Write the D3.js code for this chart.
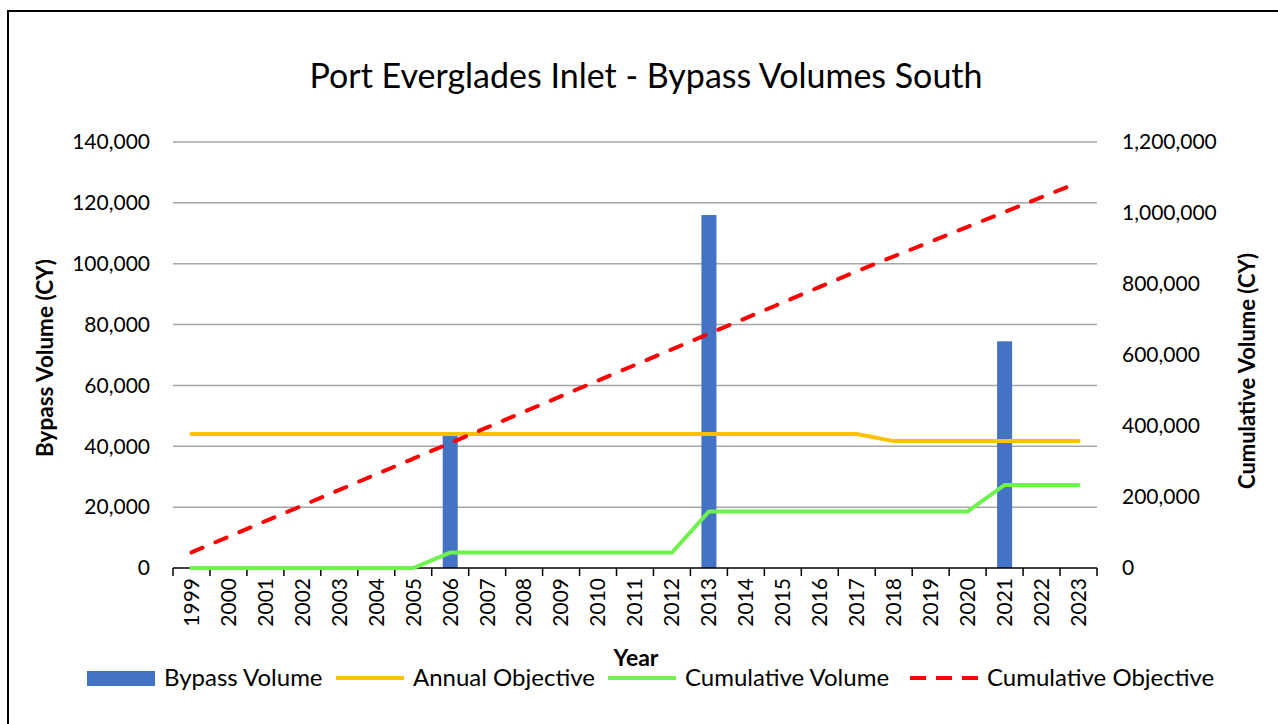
<!DOCTYPE html>
<html>
<head>
<meta charset="utf-8">
<script src="https://cdn.jsdelivr.net/npm/d3@7"></script>
<style>
  body { margin: 0; background: #fff; }
  text { font-family: Lato, "Open Sans", sans-serif; fill: #000; }
</style>
</head>
<body>
<div id="chart"></div>
<script>
// values
const years = ["1999","2000","2001","2002","2003","2004","2005","2006","2007","2008","2009","2010",
               "2011","2012","2013","2014","2015","2016","2017","2018","2019","2020","2021","2022","2023"];
const bypassVolume = [0,0,0,0,0,0,0,43500,0,0,0,0,0,0,116000,0,0,0,0,0,0,0,74500,0,0];
const annualObjective = [44000,44000,44000,44000,44000,44000,44000,44000,44000,44000,44000,44000,44000,
                         44000,44000,44000,44000,44000,44000,41700,41700,41700,41700,41700,41700];
const cumulativeVolume = [0,0,0,0,0,0,0,43500,43500,43500,43500,43500,43500,43500,159500,159500,159500,
                          159500,159500,159500,159500,159500,234000,234000,234000];
const cumulativeObjective = [44000,88000,132000,176000,220000,264000,308000,352000,396000,440000,484000,
                             528000,572000,616000,660000,704000,748000,792000,836000,877700,919400,
                             961100,1002800,1044500,1086200];
const leftTicks = [0,20000,40000,60000,80000,100000,120000,140000];
const rightTicks = [0,200000,400000,600000,800000,1000000,1200000];

const width = 1278,
      height = 724,
      margin = ({top: 142, right: 181, bottom: 156, left: 173});

const svg = d3.select("#chart")
    .append("svg")
    .attr("width", width)
    .attr("height", height);

// outer frame (only the top and left edges show in the picture)
svg.append("rect")
    .attr("x", 8).attr("y", 11)
    .attr("width", width + 20).attr("height", height + 20)
    .attr("fill", "none").attr("stroke", "#000").attr("stroke-width", 2);

const x = d3.scaleBand()
    .domain(years)
    .range([margin.left, width - margin.right]);

const y = d3.scaleLinear()
    .domain([0, 140000])
    .range([height - margin.bottom, margin.top]);

const y2 = d3.scaleLinear()
    .domain([0, 1200000])
    .range([height - margin.bottom, margin.top]);

const fmt = d3.format(",");

// gridlines
svg.append("g")
    .selectAll("line")
    .data(leftTicks.slice(1))
    .join("line")
    .attr("x1", margin.left).attr("x2", width - margin.right)
    .attr("y1", d => y(d)).attr("y2", d => y(d))
    .attr("stroke", "#a6a6a6").attr("stroke-width", 1.5);

// left axis labels
svg.append("g")
    .attr("transform", `translate(${margin.left - 23},0)`)
    .call(d3.axisLeft(y).tickValues(leftTicks).tickFormat(fmt).tickSize(0).tickPadding(0))
    .call(g => g.select(".domain").remove())
    .call(g => g.selectAll("text").style("font-size", "21px").attr("font-family", null));

// right axis labels
svg.append("g")
    .attr("transform", `translate(${width - margin.right + 25},0)`)
    .call(d3.axisRight(y2).tickValues(rightTicks).tickFormat(fmt).tickSize(0).tickPadding(0))
    .call(g => g.select(".domain").remove())
    .call(g => g.selectAll("text").style("font-size", "21px").attr("font-family", null));

// bars
svg.append("g")
    .selectAll("rect")
    .data(years.map((yr, i) => ({yr, v: bypassVolume[i]})).filter(d => d.v > 0))
    .join("rect")
    .attr("fill", "#4472c4")
    .attr("x", d => x(d.yr) + x.bandwidth() / 2 - 7.5)
    .attr("width", 15)
    .attr("y", d => y(d.v))
    .attr("height", d => y(0) - y(d.v));

// x axis
const xAxis = svg.append("g")
    .attr("transform", `translate(0,${height - margin.bottom})`);
xAxis.append("line")
    .attr("x1", margin.left).attr("x2", width - margin.right)
    .attr("stroke", "#000").attr("stroke-width", 1.5);
xAxis.selectAll(".tk")
    .data(years.concat(["end"]))
    .join("line")
    .attr("class", "tk")
    .attr("x1", d => d === "end" ? x.range()[1] : x(d))
    .attr("x2", d => d === "end" ? x.range()[1] : x(d))
    .attr("y1", 0).attr("y2", 8)
    .attr("stroke", "#000").attr("stroke-width", 1.5);
xAxis.selectAll(".lb")
    .data(years)
    .join("text")
    .attr("class", "lb")
    .attr("transform", d => `translate(${x(d) + x.bandwidth() / 2},10) rotate(-90)`)
    .attr("text-anchor", "end")
    .attr("dy", "0.35em")
    .style("font-size", "21px")
    .text(d => d);

// lines
const cx = i => x(years[i]) + x.bandwidth() / 2;
const lineL = d3.line().x((d, i) => cx(i)).y(d => y(d));
const lineR = d3.line().x((d, i) => cx(i)).y(d => y2(d));

svg.append("path")
    .datum(annualObjective)
    .attr("d", lineL)
    .attr("fill", "none").attr("stroke", "#ffc000").attr("stroke-width", 4)
    .attr("stroke-linecap", "round");

svg.append("path")
    .datum(cumulativeVolume)
    .attr("d", lineR)
    .attr("fill", "none").attr("stroke", "#6df24e").attr("stroke-width", 4)
    .attr("stroke-linecap", "round");

svg.append("path")
    .datum(cumulativeObjective)
    .attr("d", lineR)
    .attr("fill", "none").attr("stroke", "#ff0000").attr("stroke-width", 4)
    .attr("stroke-linecap", "round")
    .attr("stroke-dasharray", "12,14");

// title
svg.append("text")
    .attr("x", 646).attr("y", 88)
    .attr("text-anchor", "middle")
    .style("font-size", "34px")
    .text("Port Everglades Inlet - Bypass Volumes South");

// axis titles
svg.append("text")
    .attr("transform", `translate(53,${(y(0) + y(140000)) / 2 + 3}) rotate(-90)`)
    .attr("text-anchor", "middle")
    .style("font-size", "22.5px").style("font-weight", "bold")
    .text("Bypass Volume (CY)");

svg.append("text")
    .attr("transform", `translate(1255,${(y(0) + y(140000)) / 2 + 16}) rotate(-90)`)
    .attr("text-anchor", "middle")
    .style("font-size", "22px").style("font-weight", "bold")
    .text("Cumulative Volume (CY)");

svg.append("text")
    .attr("x", 636).attr("y", 666)
    .attr("text-anchor", "middle")
    .style("font-size", "23px").style("font-weight", "bold")
    .text("Year");

// legend
const legendItems = [
    {name: "Bypass Volume", type: "rect", color: "#4472c4", x: 87},
    {name: "Annual Objective", type: "line", color: "#ffc000", x: 336},
    {name: "Cumulative Volume", type: "line", color: "#6df24e", x: 608},
    {name: "Cumulative Objective", type: "dash", color: "#ff0000", x: 910}
];
const legend = svg.append("g").attr("transform", "translate(0,678)");
legendItems.forEach(d => {
    if (d.type === "rect") {
        legend.append("rect").attr("x", d.x).attr("y", -7).attr("width", 68).attr("height", 15).attr("fill", d.color);
    } else {
        legend.append("line")
            .attr("x1", d.x).attr("x2", d.x + 68)
            .attr("stroke", d.color).attr("stroke-width", 4)
            .attr("stroke-dasharray", d.type === "dash" ? "16,10" : null);
    }
    legend.append("text")
        .attr("x", d.x + 77).attr("dy", "0.35em")
        .style("font-size", "24px")
        .text(d.name);
});
</script>
</body>
</html>
